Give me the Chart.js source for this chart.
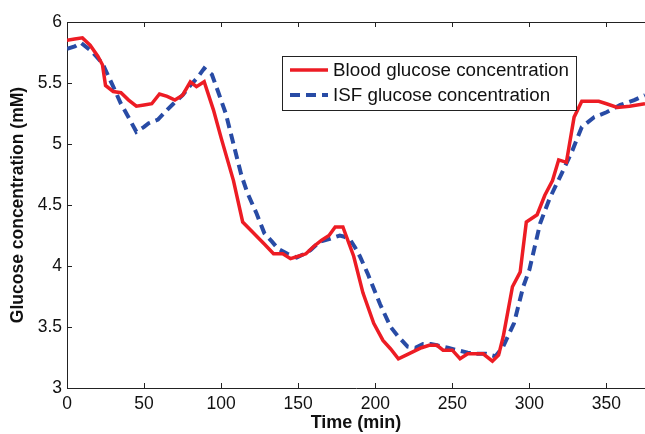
<!DOCTYPE html>
<html>
<head>
<meta charset="utf-8">
<script src="https://cdn.jsdelivr.net/npm/chart.js@4"></script>
<style>
  html, body { margin: 0; padding: 0; background: #fff; }
  #wrap { width: 645px; height: 434px; }
</style>
</head>
<body>
<div id="wrap"><canvas id="glucose" width="645" height="434"></canvas></div>
<script>
// time (min) and glucose (mM)
var bloodTime = [0, 5, 10, 15, 20, 23, 25, 30, 35, 40, 45, 50, 55, 60, 65, 70, 75, 80, 84, 89,
    95, 100, 108, 114, 121, 128, 134, 140, 145, 150, 155, 160, 165, 170, 174, 179, 186, 192, 199, 205,
    210, 215, 220, 225, 230, 235, 240, 244, 250, 255, 260, 265, 270, 276, 280, 283, 289, 294, 298, 305,
    310, 315, 319, 324, 329, 334, 340, 345, 350, 357, 365, 375];
var bloodGlucose = [5.85, 5.86, 5.87, 5.81, 5.72, 5.65, 5.48, 5.43, 5.42, 5.36, 5.31, 5.32, 5.33, 5.41, 5.39, 5.36, 5.40, 5.51, 5.47, 5.51,
    5.28, 5.05, 4.70, 4.36, 4.27, 4.18, 4.10, 4.10, 4.06, 4.08, 4.10, 4.16, 4.21, 4.25, 4.32, 4.32, 4.08, 3.78, 3.53, 3.39,
    3.32, 3.24, 3.27, 3.30, 3.33, 3.35, 3.35, 3.31, 3.31, 3.24, 3.28, 3.28, 3.28, 3.22, 3.27, 3.42, 3.83, 3.95, 4.36, 4.42,
    4.58, 4.70, 4.87, 4.85, 5.22, 5.35, 5.35, 5.35, 5.33, 5.30, 5.31, 5.33];

var isfTime = [0, 5, 9, 16, 23, 30, 35, 39, 45, 50, 53, 59, 65, 69, 75, 80, 85, 89, 94, 98,
    103, 108, 113, 117, 123, 128, 133, 137, 143, 149, 154, 158, 164, 170, 177, 180, 184, 187, 190, 195,
    203, 210, 215, 221, 226, 231, 236, 240, 247, 253, 260, 266, 272, 278, 283, 290, 296, 300, 307, 313,
    321, 328, 334, 342, 350, 359, 368, 375];
var isfGlucose = [5.78, 5.80, 5.83, 5.76, 5.66, 5.47, 5.33, 5.24, 5.10, 5.14, 5.17, 5.20, 5.28, 5.33, 5.40, 5.48, 5.55, 5.62, 5.57, 5.43,
    5.25, 5.00, 4.75, 4.60, 4.43, 4.27, 4.20, 4.14, 4.10, 4.07, 4.10, 4.13, 4.20, 4.22, 4.25, 4.24, 4.21, 4.15, 4.08, 3.94,
    3.69, 3.50, 3.42, 3.34, 3.33, 3.36, 3.36, 3.35, 3.33, 3.31, 3.29, 3.28, 3.28, 3.26, 3.34, 3.53, 3.83, 3.97, 4.35, 4.55,
    4.76, 4.95, 5.14, 5.22, 5.26, 5.32, 5.36, 5.40];

var xTicks = [0, 50, 100, 150, 200, 250, 300, 350];
var yTicks = [3, 3.5, 4, 4.5, 5, 5.5, 6];
var seriesNames = ['Blood glucose concentration', 'ISF glucose concentration'];

function toPoints(xs, ys) {
    return xs.map(function(x, i) { return { x: x, y: ys[i] }; });
}

var RED = 'rgb(237,28,36)';
var BLUE = 'rgb(40,75,165)';
var FONT = '"Liberation Sans", Arial, sans-serif';

// matlab style: box on top, ticks pointing in
var boxTicks = {
    id: 'boxTicks',
    afterDraw: function(chart) {
        var ctx = chart.ctx;
        var a = chart.chartArea;
        var xs = chart.scales.x, ys = chart.scales.y;
        ctx.save();
        ctx.strokeStyle = '#222';
        ctx.lineWidth = 1;
        ctx.beginPath();
        ctx.moveTo(a.left, a.top + 0.5);
        ctx.lineTo(a.right, a.top + 0.5);
        xTicks.forEach(function(v) {
            var px = Math.round(xs.getPixelForValue(v)) + 0.5;
            ctx.moveTo(px, a.bottom);
            ctx.lineTo(px, a.bottom - 5);
            ctx.moveTo(px, a.top);
            ctx.lineTo(px, a.top + 5);
        });
        yTicks.forEach(function(v) {
            var py = Math.round(ys.getPixelForValue(v)) + 0.5;
            ctx.moveTo(a.left, py);
            ctx.lineTo(a.left + 5, py);
        });
        ctx.stroke();
        ctx.restore();
    }
};

// legend box inside the plot
var innerLegend = {
    id: 'innerLegend',
    afterDraw: function(chart) {
        var ctx = chart.ctx;
        var left = 282, top = 56, w = 294, h = 54;
        ctx.save();
        ctx.fillStyle = '#fff';
        ctx.fillRect(left, top, w, h);
        ctx.strokeStyle = '#222';
        ctx.lineWidth = 1;
        ctx.strokeRect(left + 0.5, top + 0.5, w, h);
        chart.data.datasets.forEach(function(ds, i) {
            var y = 70 + i * 25;
            ctx.strokeStyle = ds.borderColor;
            ctx.lineWidth = ds.borderWidth;
            ctx.setLineDash(ds.borderDash || []);
            ctx.beginPath();
            ctx.moveTo(290, y);
            ctx.lineTo(328, y);
            ctx.stroke();
            ctx.setLineDash([]);
            ctx.fillStyle = '#111';
            ctx.font = '18.8px ' + FONT;
            ctx.textBaseline = 'middle';
            ctx.fillText(ds.label, 333, y + 1);
        });
        ctx.restore();
    }
};

const ctx = document.getElementById('glucose');
const chart = new Chart(ctx, {
    type: 'line',
    data: {
        datasets: [{
            label: seriesNames[0],
            data: toPoints(bloodTime, bloodGlucose),
            borderColor: RED,
            borderWidth: 3.5,
            pointRadius: 0,
            tension: 0,
            fill: false
        }, {
            label: seriesNames[1],
            data: toPoints(isfTime, isfGlucose),
            borderColor: BLUE,
            borderWidth: 4,
            borderDash: [10, 6],
            pointRadius: 0,
            tension: 0,
            fill: false
        }]
    },
    options: {
        responsive: false,
        animation: false,
        layout: { padding: { top: 22, right: 0, left: 0, bottom: 0 } },
        scales: {
            x: {
                type: 'linear',
                min: 0,
                max: 375,
                afterBuildTicks: function(axis) {
                    axis.ticks = xTicks.map(function(v) { return { value: v }; });
                },
                afterFit: function(axis) { axis.height = 46; },
                grid: { drawOnChartArea: false, drawTicks: false },
                border: { display: true, color: '#222', width: 1 },
                ticks: {
                    color: '#111',
                    padding: 6,
                    maxRotation: 0,
                    font: { family: FONT, size: 17.5 }
                },
                title: {
                    display: true,
                    text: 'Time (min)',
                    color: '#111',
                    padding: { top: 0, bottom: 0 },
                    font: { family: FONT, size: 18, weight: 'bold' }
                }
            },
            y: {
                min: 3,
                max: 6,
                afterBuildTicks: function(axis) {
                    axis.ticks = yTicks.map(function(v) { return { value: v }; });
                },
                afterFit: function(axis) { axis.width = 67; },
                grid: { drawOnChartArea: false, drawTicks: false },
                border: { display: true, color: '#222', width: 1 },
                ticks: {
                    color: '#111',
                    padding: 5,
                    font: { family: FONT, size: 17.5 },
                    callback: function(v) { return String(v); }
                },
                title: {
                    display: true,
                    text: 'Glucose concentration (mM)',
                    color: '#111',
                    padding: { top: 8, bottom: 0 },
                    font: { family: FONT, size: 17.5, weight: 'bold' }
                }
            }
        },
        plugins: {
            legend: { display: false },
            tooltip: { enabled: false }
        }
    },
    plugins: [boxTicks, innerLegend]
});
</script>
</body>
</html>
